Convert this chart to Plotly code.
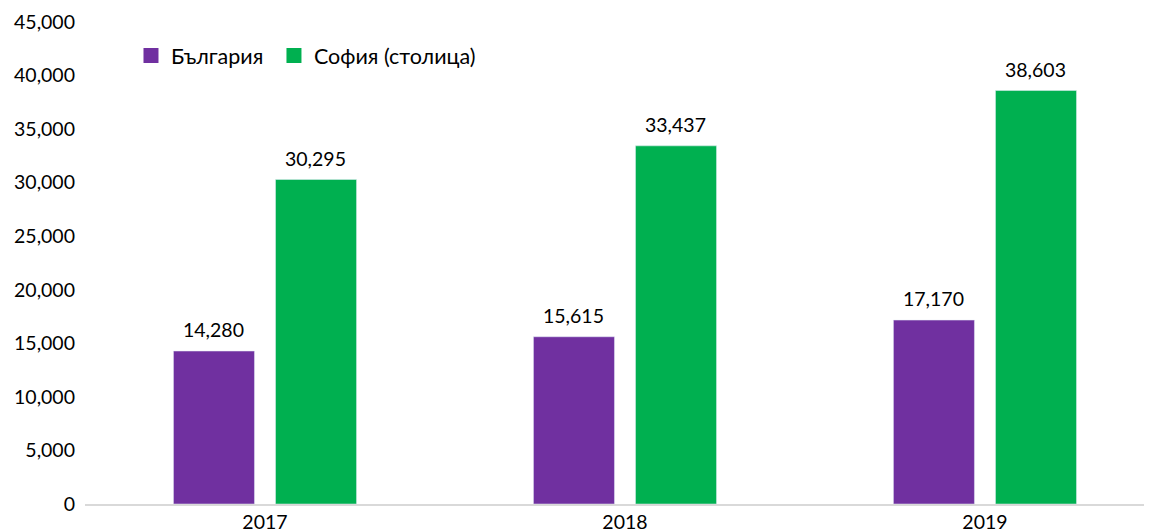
import plotly.graph_objects as go

years = ["2017", "2018", "2019"]
bulgaria = [14280, 15615, 17170]
sofia = [30295, 33437, 38603]
y_ticks = [0, 5000, 10000, 15000, 20000, 25000, 30000, 35000, 40000, 45000]

FONT = "Lato"
FS = 19.5
LEG_FS = 21.5
PURPLE = "#7030A0"
GREEN = "#00B050"

fig = go.Figure()
fig.add_trace(go.Bar(x=years, y=bulgaria, name="България", marker_color=PURPLE,
                     showlegend=False, hoverinfo="y"))
fig.add_trace(go.Bar(x=years, y=sofia, name="София (столица)", marker_color=GREEN,
                     showlegend=False, hoverinfo="y"))
# legend entries with larger square swatches, each in its own legend box
for name, col, lg in [("България", PURPLE, "legend"), ("София (столица)", GREEN, "legend2")]:
    fig.add_trace(go.Scatter(x=[None], y=[None], mode="markers", name=name, legend=lg,
                             marker=dict(symbol="square", size=15, color=col)))

for vals, dx in [(bulgaria, -51), (sofia, 51)]:
    for i, v in enumerate(vals):
        fig.add_annotation(x=i, y=v, xref="x", yref="y", text=f"{v:,}", showarrow=False,
                           xshift=dx, yshift=8, yanchor="bottom",
                           font=dict(size=FS, family=FONT, color="#000000"))

leg_common = dict(orientation="h", xanchor="left", yanchor="top",
                  xref="paper", yref="paper",
                  font=dict(size=LEG_FS, family=FONT), bgcolor="rgba(0,0,0,0)",
                  itemsizing="trace")

fig.update_layout(
    width=1144, height=524,
    margin=dict(l=77, r=0, t=14, b=28),
    paper_bgcolor="white", plot_bgcolor="white",
    font=dict(family=FONT, size=FS, color="#000000"),
    barmode="group", bargap=0.433, bargroupgap=0.206,
    showlegend=True,
    legend=dict(x=0.0431, y=0.973, **leg_common),
    legend2=dict(x=0.1771, y=0.973, **leg_common),
    xaxis=dict(type="category", range=[-0.5, 2.464], showline=True, linecolor="#D9D9D9",
               linewidth=2, ticks="", showgrid=False, zeroline=False),
    yaxis=dict(range=[0, 45000], tickvals=y_ticks, tickformat=",", showgrid=False,
               zeroline=False, showline=False, ticks="", ticklabelstandoff=9),
)
fig.write_html("out.html")
